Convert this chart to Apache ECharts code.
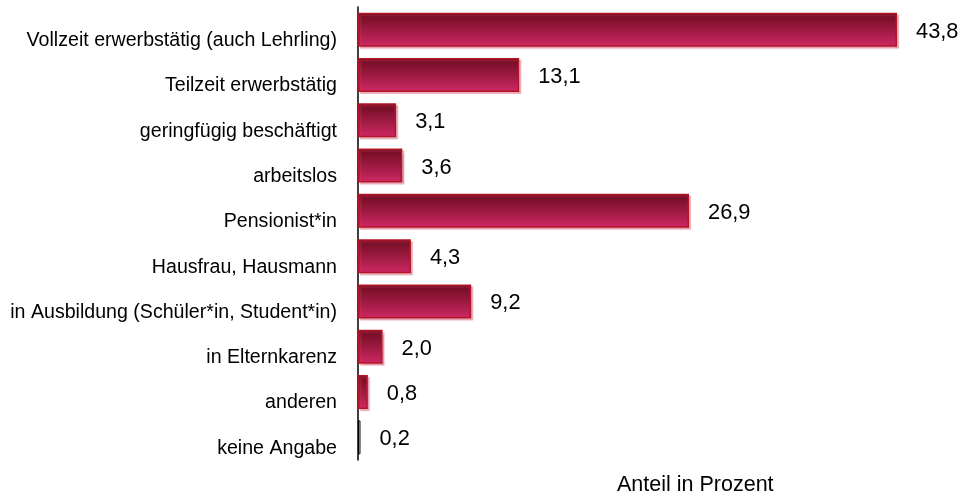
<!DOCTYPE html>
<html>
<head>
<meta charset="utf-8">
<script src="https://cdn.jsdelivr.net/npm/echarts@6/dist/echarts.min.js"></script>
<style>
  html, body { margin: 0; padding: 0; background: #fff; }
  #chart { width: 965px; height: 494px; }
</style>
</head>
<body>
<div id="chart"></div>
<script>
// Employment status, share in percent
const categories = [
  'Vollzeit erwerbstätig (auch Lehrling)',
  'Teilzeit erwerbstätig',
  'geringfügig beschäftigt',
  'arbeitslos',
  'Pensionist*in',
  'Hausfrau, Hausmann',
  'in Ausbildung (Schüler*in, Student*in)',
  'in Elternkarenz',
  'anderen',
  'keine Angabe'
];
const values = [43.8, 13.1, 3.1, 3.6, 26.9, 4.3, 9.2, 2.0, 0.8, 0.2];
const axisTitle = 'Anteil in Prozent';

const font = 'Liberation Sans, Arial, sans-serif';

const barFill = new echarts.graphic.LinearGradient(0, 0, 0, 1, [
  { offset: 0, color: '#6c0b20' },
  { offset: 0.5, color: '#9c1a40' },
  { offset: 1, color: '#cf2866' }
]);

// The "keine Angabe" bar is drawn as a plain outlined bar
const seriesData = values.map((v, i) => {
  const item = { value: v };
  if (i === values.length - 1) {
    item.itemStyle = {
      color: '#ffffff', borderColor: '#000000', borderWidth: 1,
      shadowColor: 'rgba(0,0,0,0)', shadowOffsetX: 0, shadowOffsetY: 0, shadowBlur: 0
    };
  }
  return item;
});

const chart = echarts.init(document.getElementById('chart'), null, { renderer: 'canvas' });
chart.setOption({
  animation: false,
  backgroundColor: '#ffffff',
  title: {
    text: axisTitle,
    left: 617,
    top: 474,
    padding: 0,
    textStyle: { fontFamily: font, fontSize: 21.5, fontWeight: 'normal', color: '#000' }
  },
  grid: { left: 358, top: 7, width: 603, height: 453, containLabel: false },
  xAxis: {
    type: 'value',
    min: 0,
    max: 49,
    show: false
  },
  yAxis: {
    type: 'category',
    inverse: true,
    data: categories,
    axisLine: { show: true, lineStyle: { color: '#000', width: 1.5 } },
    axisTick: { show: false },
    axisLabel: {
      fontFamily: font, fontSize: 19.6, color: '#000', margin: 21,
      verticalAlign: 'top', lineHeight: 22
    }
  },
  series: [{
    type: 'bar',
    data: seriesData,
    barWidth: 34,
    itemStyle: {
      color: barFill,
      borderColor: '#b51427',
      borderWidth: 1.5,
      shadowColor: 'rgba(200,60,90,0.35)',
      shadowOffsetX: 2,
      shadowOffsetY: 2,
      shadowBlur: 1
    },
    label: {
      show: true,
      position: 'right',
      distance: 19,
      offset: [0, 2],
      fontFamily: font,
      fontSize: 21.8,
      color: '#000',
      formatter: p => p.value.toFixed(1).replace('.', ',')
    }
  }]
});
</script>
</body>
</html>
